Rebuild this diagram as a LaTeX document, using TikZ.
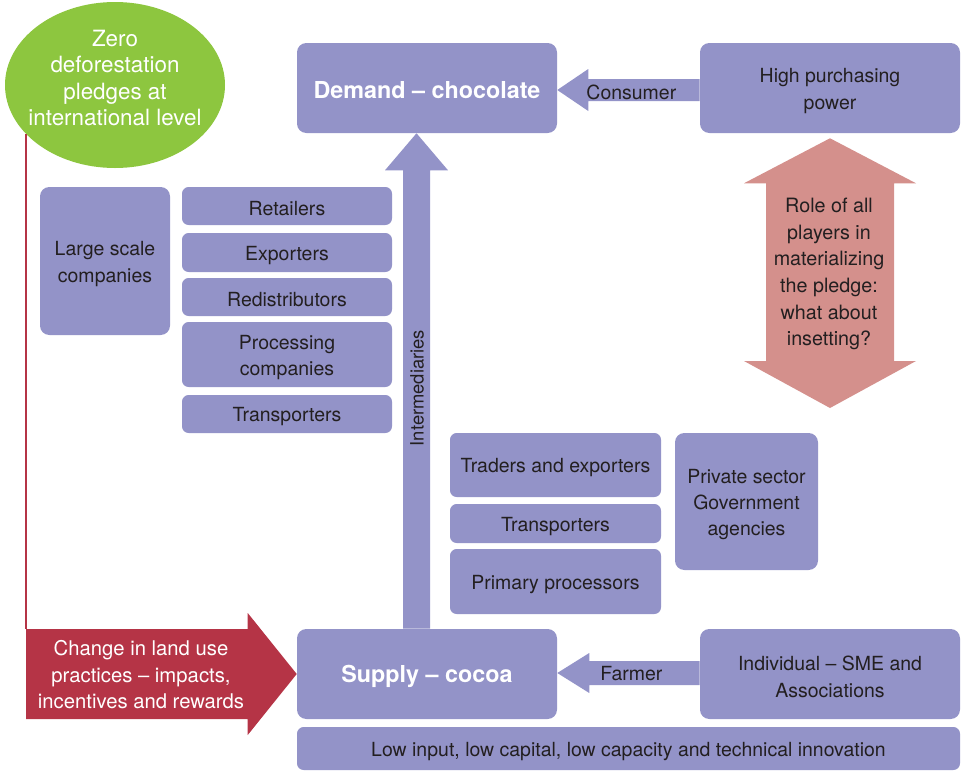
\documentclass[tikz,border=0pt]{standalone}
\usepackage{fontspec}
\setmainfont{TeX Gyre Heros}
\usetikzlibrary{shapes.geometric,calc}
\definecolor{boxc}{RGB}{147,147,200}
\definecolor{greenc}{RGB}{141,198,63}
\definecolor{redc}{RGB}{181,52,70}
\definecolor{pinkc}{RGB}{212,144,140}
\definecolor{textc}{RGB}{35,31,32}
\begin{document}
\begin{tikzpicture}[x=0.75pt,y=-0.75pt,
  box/.style={fill=boxc, draw=none, rounded corners=5pt, inner sep=0pt},
  bigbox/.style={box, rounded corners=7pt},
  sz/.style 2 args={minimum width=#1*0.75pt, minimum height=#2*0.75pt},
  lbl/.style={inner sep=0pt, align=center, text=textc, font=\fontsize{14.6pt}{19.8pt}\selectfont},
  boldlbl/.style={inner sep=0pt, align=center, text=white, font=\fontsize{17.5pt}{21pt}\selectfont\bfseries},
  whitelbl/.style={inner sep=0pt, align=center, text=white},
  txt/.style={label={[lbl, yshift=-2.25pt]center:{#1}}},
  btxt/.style={label={[boldlbl, yshift=-1.5pt]center:{#1}}},
  blockarrow/.style={fill=boxc, draw=none}
]
\useasboundingbox (0,0) rectangle (961,772);

% boxes
\node[bigbox, sz={260}{90}, btxt={Demand – chocolate}] (demand) at (427,88) {};
\node[bigbox, sz={260}{90}, txt={High purchasing\\power}] (hpp) at (830,88) {};
\node[bigbox, sz={130}{148}, txt={Large scale\\companies}] (large) at (105,261) {};
\node[box, sz={210}{38}, txt={Retailers}] (retail) at (287,206) {};
\node[box, sz={210}{39}, txt={Exporters}] (exp) at (287,252.5) {};
\node[box, sz={210}{38}, txt={Redistributors}] (redis) at (287,297) {};
\node[box, sz={210}{65}, txt={Processing\\companies}] (proc) at (287,354.5) {};
\node[box, sz={210}{38}, txt={Transporters}] (trans1) at (287,414) {};
\node[box, sz={211}{64}, txt={Traders and exporters}] (traders) at (555.5,465) {};
\node[box, sz={211}{39}, txt={Transporters}] (trans2) at (555.5,523.5) {};
\node[box, sz={211}{65}, txt={Primary processors}] (primary) at (555.5,581.5) {};
\node[bigbox, sz={143}{137}, txt={Private sector\\Government\\agencies}] (private) at (746.5,501.5) {};
\node[bigbox, sz={260}{90}, btxt={Supply – cocoa}] (supply) at (427,674) {};
\node[bigbox, sz={260}{90}, txt={Individual – SME and\\Associations}] (sme) at (830,674) {};
\node[box, sz={663}{43}, txt={Low input, low capital, low capacity and technical innovation}] (low) at (628.5,748.5) {};

% green ellipse
\node[ellipse, fill=greenc, draw=none, minimum width=165pt, minimum height=124.5pt, inner sep=0pt] (pledge) at (115,85) {};
\node[whitelbl, font=\fontsize{16.8pt}{19.8pt}\selectfont] (pledgetxt) at (115,78) {Zero\\deforestation\\pledges at\\international level};

% red arrow: land use
\coordinate (lutl) at (26,629);
\coordinate (lubl) at (26,719);
\draw[redc, line width=1.7pt] (pledge.209) -- (pledge.209 |- lutl);
\fill[redc] (lutl) -- ($(supply.west)+(-49,-45)$) -- ($(supply.west)+(-49,-61)$) -- (supply.west)
  -- ($(supply.west)+(-49,61)$) -- ($(supply.west)+(-49,45)$) -- (lubl) -- cycle;
\node[whitelbl, font=\fontsize{15.2pt}{19.9pt}\selectfont] (landuse) at (141,675) {Change in land use\\practices – impacts,\\incentives and rewards};

% consumer arrow
\coordinate (ct) at ($(demand.east)+(0,2)$);
\fill[blockarrow] (ct) -- ($(ct)+(31,-21)$) -- ($(ct)+(31,-11)$) -- ($(hpp.west)+(0,-9)$)
  -- ($(hpp.west)+(0,13)$) -- ($(ct)+(31,11)$) -- ($(ct)+(31,21)$) -- cycle;
\node[lbl] (consumer) at ($(ct)!0.52!(hpp.west)+(0,3)$) {Consumer};

% farmer arrow
\coordinate (ft) at ($(supply.east)+(0,-1)$);
\fill[blockarrow] (ft) -- ($(ft)+(32,-20)$) -- ($(ft)+(32,-12)$) -- ($(sme.west)+(0,-13)$)
  -- ($(sme.west)+(0,11)$) -- ($(ft)+(32,12)$) -- ($(ft)+(32,20)$) -- cycle;
\node[lbl] (farmer) at ($(ft)!0.52!(sme.west)$) {Farmer};

% intermediaries arrow
\coordinate (it) at ($(demand.south)+(-10.5,0)$);
\coordinate (ir) at ($(it)+(13.5,0)$);
\coordinate (il) at ($(it)+(-13.5,0)$);
\fill[blockarrow] (it) -- ($(it)+(31.5,37)$) -- ($(it)+(13.5,37)$) -- (ir |- supply.north)
  -- (il |- supply.north) -- ($(it)+(-13.5,37)$) -- ($(it)+(-31.5,37)$) -- cycle;
\node[lbl, rotate=90, font=\fontsize{13.8pt}{16pt}\selectfont] (interm) at (417,388) {Intermediaries};

% pink double arrow
\coordinate (pt) at ($(hpp.south)+(0,5)$);
\coordinate (pb) at (830,408);
\fill[pinkc] (pt) -- ($(pt)+(86,45)$) -- ($(pt)+(64,45)$) -- ($(pb)+(64,-47)$) -- ($(pb)+(86,-47)$)
  -- (pb) -- ($(pb)+(-86,-47)$) -- ($(pb)+(-64,-47)$) -- ($(pt)+(-64,45)$) -- ($(pt)+(-86,45)$) -- cycle;
\node[lbl, font=\fontsize{14.8pt}{20pt}\selectfont] (role) at (829,274) {Role of all\\players in\\materializing\\the pledge:\\what about\\insetting?};
\end{tikzpicture}
\end{document}
